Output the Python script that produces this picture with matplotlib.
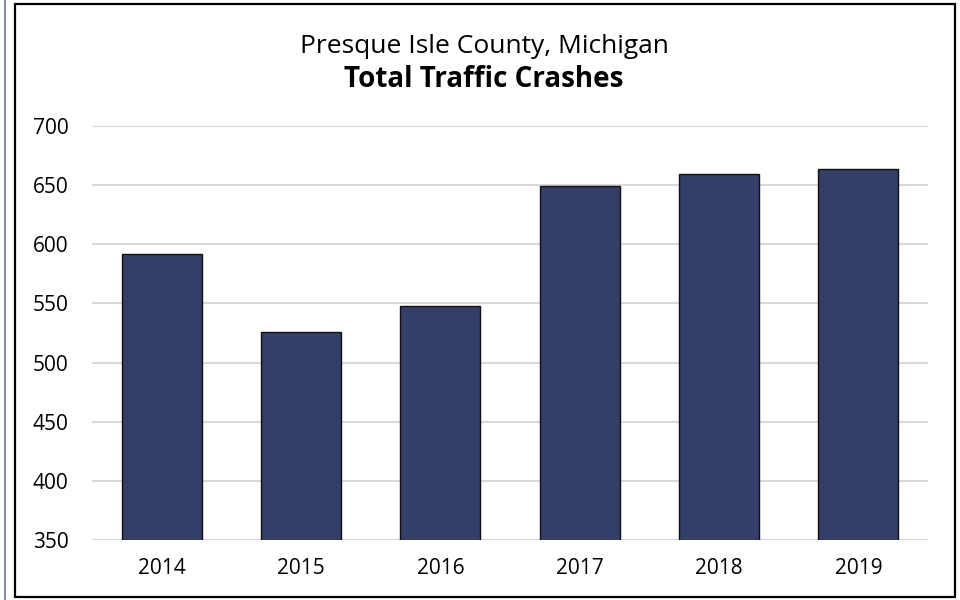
import matplotlib.pyplot as plt
from matplotlib.patches import Rectangle
from matplotlib.lines import Line2D

years = ["2014", "2015", "2016", "2017", "2018", "2019"]
crashes = [592, 526, 548, 649, 659, 664]

W, H = 960, 600
fig = plt.figure(figsize=(9.6, 6), dpi=100)
plt.rcParams['font.family'] = ['Open Sans', 'DejaVu Sans']

# outer decorations: thin left rule and black chart frame
fig.add_artist(Line2D([5 / W, 5 / W], [0, 1], color="#6b7899", lw=1.2))
fig.add_artist(Rectangle((15 / W, 3 / H), 940 / W, 593 / H, fill=False,
                         edgecolor="black", lw=1.6))

ax = fig.add_axes([92 / W, 60 / H, 836 / W, 414 / H])
x = range(len(years))
ax.bar(x, crashes, width=0.575, color="#343f69", edgecolor="#111111",
       linewidth=1.0, zorder=3)

ax.set_ylim(350, 700)
ax.set_yticks(range(350, 701, 50))
ax.set_xlim(-0.5, len(years) - 0.5)
ax.set_xticks(list(x))
ax.set_xticklabels(years)
ax.grid(axis="y", color="#d9d9d9", lw=1.5, zorder=0)
for s in ax.spines.values():
    s.set_visible(False)
ax.tick_params(length=0, labelsize=15)
ax.tick_params(axis="x", pad=13)
ax.tick_params(axis="y", pad=17)

fig.text(484 / W, 1 - 53 / H, "Presque Isle County, Michigan", ha="center",
         va="baseline", fontsize=19)
fig.text(484 / W, 1 - 87 / H, "Total Traffic Crashes", ha="center",
         va="baseline", fontsize=20, fontweight="bold")

fig.savefig("out.png", dpi=100)
